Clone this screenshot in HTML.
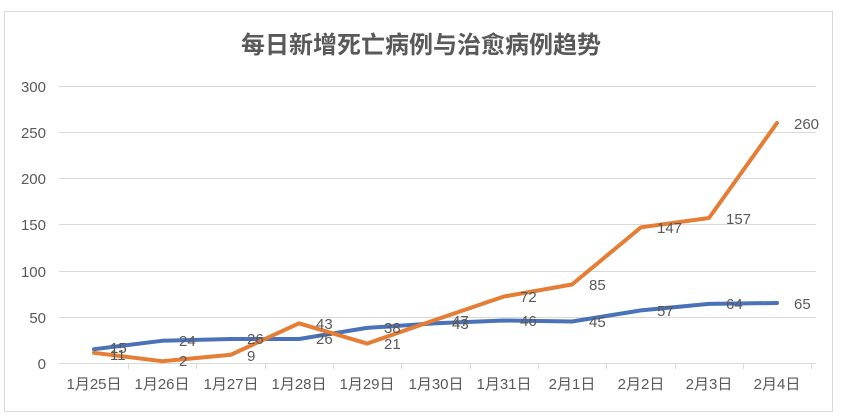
<!DOCTYPE html>
<html><head><meta charset="utf-8"><style>
body{margin:0;background:#fff;}
svg{display:block;font-family:"Liberation Sans","Noto Sans CJK SC",sans-serif;}
</style></head><body>
<svg width="842" height="416" viewBox="0 0 842 416">
<rect x="0" y="0" width="842" height="416" fill="#fff"/>
<rect x="4.5" y="11.5" width="828" height="400" fill="none" stroke="#d9d9d9"/>
<text x="421" y="53" text-anchor="middle" font-size="24" font-weight="bold" fill="#595959" font-family="'Noto Sans CJK SC',sans-serif">每日新增死亡病例与治愈病例趋势</text>
<g stroke="#d9d9d9" stroke-width="1">
<line x1="59" x2="816" y1="86.5" y2="86.5"/>
<line x1="59" x2="816" y1="132.5" y2="132.5"/>
<line x1="59" x2="816" y1="178.5" y2="178.5"/>
<line x1="59" x2="816" y1="224.5" y2="224.5"/>
<line x1="59" x2="816" y1="271.5" y2="271.5"/>
<line x1="59" x2="816" y1="317.5" y2="317.5"/>
<line x1="59" x2="816" y1="363.5" y2="363.5"/>
<line x1="128.5" x2="128.5" y1="363" y2="369"/>
<line x1="196.5" x2="196.5" y1="363" y2="369"/>
<line x1="265.5" x2="265.5" y1="363" y2="369"/>
<line x1="333.5" x2="333.5" y1="363" y2="369"/>
<line x1="401.5" x2="401.5" y1="363" y2="369"/>
<line x1="470.5" x2="470.5" y1="363" y2="369"/>
<line x1="538.5" x2="538.5" y1="363" y2="369"/>
<line x1="606.5" x2="606.5" y1="363" y2="369"/>
<line x1="675.5" x2="675.5" y1="363" y2="369"/>
<line x1="743.5" x2="743.5" y1="363" y2="369"/>
<line x1="811.5" x2="811.5" y1="363" y2="369"/>
</g>
<g font-size="15" fill="#595959" text-anchor="end">
<text x="46" y="92">300</text><text x="46" y="138">250</text><text x="46" y="184">200</text>
<text x="46" y="230">150</text><text x="46" y="277">100</text><text x="46" y="323">50</text><text x="46" y="369">0</text>
</g>
<g font-size="15" fill="#595959" text-anchor="middle">
<text x="94" y="389">1月25日</text><text x="162" y="389">1月26日</text><text x="231" y="389">1月27日</text>
<text x="299" y="389">1月28日</text><text x="367" y="389">1月29日</text><text x="436" y="389">1月30日</text>
<text x="504" y="389">1月31日</text><text x="572" y="389">2月1日</text><text x="641" y="389">2月2日</text>
<text x="709" y="389">2月3日</text><text x="777" y="389">2月4日</text>
</g>
<polyline fill="none" stroke="#4a72b8" stroke-width="4" stroke-linejoin="round" stroke-linecap="round"
points="94,349.2 162,340.8 231,339 299,339 367,327.9 436,323.3 504,320.5 572,321.5 641,310.4 709,303.9 777,303"/>
<polyline fill="none" stroke="#e67d35" stroke-width="4" stroke-linejoin="round" stroke-linecap="round"
points="94,352.8 162,361.2 231,354.7 299,323.3 367,343.6 436,319.6 504,296.5 572,284.5 641,227.3 709,218 777,123"/>
<g font-size="15" fill="#595959">
<text x="110" y="353">15</text><text x="110" y="360">11</text>
<text x="179" y="346">24</text><text x="179" y="366">2</text>
<text x="247" y="344">26</text><text x="247" y="361">9</text>
<text x="316" y="329">43</text><text x="316" y="344">26</text>
<text x="384" y="333">38</text><text x="384" y="349">21</text>
<text x="452" y="326">47</text><text x="452" y="329">43</text>
<text x="520" y="302">72</text><text x="520" y="326">46</text>
<text x="589" y="290">85</text><text x="589" y="327">45</text>
<text x="657" y="233">147</text><text x="657" y="316">57</text>
<text x="726" y="224">157</text><text x="726" y="309">64</text>
<text x="794" y="129">260</text><text x="794" y="309">65</text>
</g>
</svg>
</body></html>
